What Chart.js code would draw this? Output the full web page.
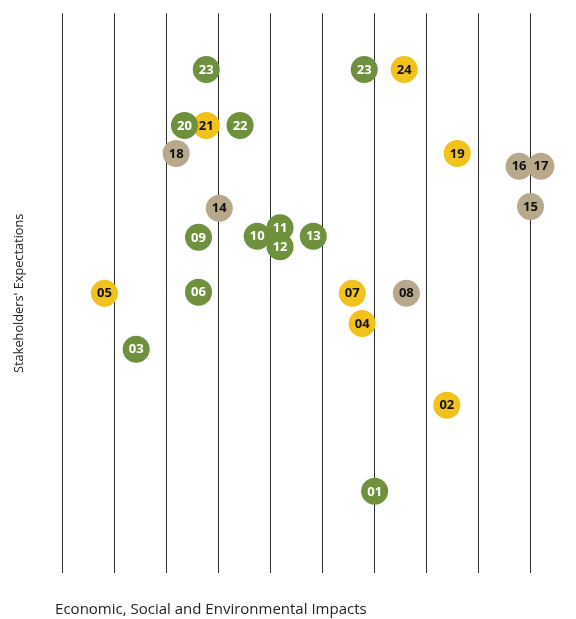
<!DOCTYPE html>
<html>
<head>
<meta charset="utf-8">
<script src="https://cdn.jsdelivr.net/npm/chart.js@4/dist/chart.umd.min.js"></script>
<style>
  html, body { margin: 0; padding: 0; background: #fff; }
  #wrap { width: 576px; height: 619px; position: relative; }
</style>
</head>
<body>
<div id="wrap"><canvas id="c"></canvas></div>
<script>
// Topic IDs and positions (x: impacts, y: expectations)
const greenIds = ['23', '23', '20', '22', '09', '10', '11', '12', '13', '06', '03', '01'];
const greenX   = [2.76, 5.80, 2.34, 3.41, 2.61, 3.74, 4.18, 4.18, 4.82, 2.61, 1.41, 6.00];
const greenY   = [9.0, 9.0, 8.0, 8.0, 6.0, 6.02, 6.17, 5.83, 6.02, 5.02, 4.0, 1.46];

const yellowIds = ['24', '21', '19', '05', '07', '04', '02'];
const yellowX   = [6.57, 2.76, 7.59, 0.80, 5.57, 5.76, 7.39];
const yellowY   = [9.0, 8.0, 7.5, 5.0, 5.0, 4.46, 3.0];

const taupeIds = ['18', '16', '17', '15', '14', '08'];
const taupeX   = [2.18, 8.78, 9.20, 9.00, 3.01, 6.61];
const taupeY   = [7.5, 7.27, 7.27, 6.55, 6.52, 5.0];

const xTitle = 'Economic, Social and Environmental Impacts';
const yTitle = "Stakeholders' Expectations";

const GREEN = '#6f913d', YELLOW = '#f1c21b', TAUPE = '#b8a98c';

function pts(xs, ys, ids) {
  return xs.map((x, i) => ({ x: x, y: ys[i], r: 13.5, id: ids[i] }));
}

const labelPlugin = {
  id: 'bubbleLabels',
  afterDatasetDraw(chart, args) {
    const ctx = chart.ctx;
    const ds = chart.data.datasets[args.index];
    const meta = args.meta;
    ctx.save();
    ctx.font = 'bold 13px "Open Sans", sans-serif';
    ctx.textAlign = 'center';
    ctx.textBaseline = 'middle';
    ctx.fillStyle = ds.labelColor;
    meta.data.forEach((el, i) => {
      ctx.fillText(ds.data[i].id, el.x, el.y + 0.5);
    });
    ctx.restore();
  }
};

new Chart(document.getElementById('c'), {
  type: 'bubble',
  data: {
    datasets: [
      { data: pts(greenX, greenY, greenIds), backgroundColor: GREEN, borderWidth: 0, clip: false, labelColor: '#ffffff' },
      { data: pts(yellowX, yellowY, yellowIds), backgroundColor: YELLOW, borderWidth: 0, clip: false, labelColor: '#111111' },
      { data: pts(taupeX, taupeY, taupeIds), backgroundColor: TAUPE, borderWidth: 0, clip: false, labelColor: '#111111' }
    ]
  },
  options: {
    responsive: true,
    maintainAspectRatio: false,
    animation: false,
    events: [],
    layout: { padding: { left: 2, top: 11, right: 45.5, bottom: 0 } },
    plugins: { legend: { display: false }, tooltip: { enabled: false } },
    scales: {
      x: {
        type: 'linear',
        min: -0.15,
        max: 9,
        ticks: { display: false, stepSize: 1, includeBounds: false },
        grid: { color: '#2a2a2a', lineWidth: 1, drawTicks: false },
        border: { display: false },
        title: {
          display: true, text: xTitle, align: 'start', color: '#222222',
          font: { family: '"Open Sans", sans-serif', size: 15 },
          padding: { top: 28, bottom: 0 }
        }
      },
      y: {
        type: 'linear',
        min: 0,
        max: 10,
        ticks: { display: false },
        grid: { display: false, drawTicks: false },
        border: { display: false },
        title: {
          display: true, text: yTitle, align: 'center', color: '#222222',
          font: { family: '"Open Sans", sans-serif', size: 12.75 },
          padding: { top: 10, bottom: 27.8 }
        }
      }
    }
  },
  plugins: [labelPlugin]
});
</script>
</body>
</html>
